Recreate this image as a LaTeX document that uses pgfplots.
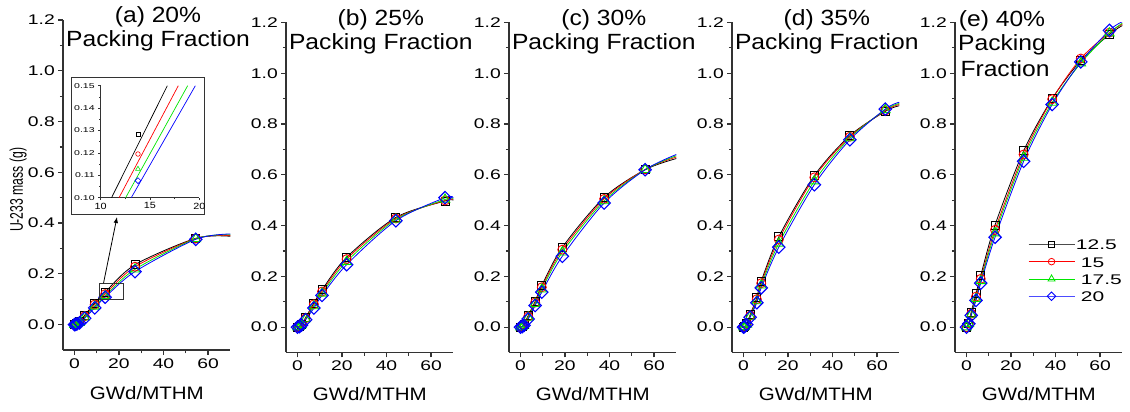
\documentclass[border=0pt]{standalone}
\usepackage{fontspec}
\setmainfont{Liberation Sans}
\newfontfamily\tickfont{Liberation Sans}[FakeStretch=1.38]
\newfontfamily\titlefont{Liberation Sans}[FakeStretch=1.12]
\newfontfamily\labelfont{Liberation Sans}[FakeStretch=1.14]
\newfontfamily\legfont{Liberation Sans}[FakeStretch=1.5]
\newfontfamily\insetfont{Liberation Sans}[FakeStretch=1.5]
\newfontfamily\insetxfont{Liberation Sans}[FakeStretch=1.2]
\usepackage{pgfplots}
\usepackage{pgfplotstable}
\pgfplotsset{compat=1.18}
\usetikzlibrary{arrows.meta}
\definecolor{cK}{RGB}{0,0,0}
\definecolor{cR}{RGB}{255,0,0}
\definecolor{cG}{RGB}{0,230,0}
\definecolor{cB}{RGB}{0,0,255}

% x, 12.5 (k), 15 (r), 17.5 (g), 20 (b); last row (x=70) is the end of the curves
\pgfplotstableread{
x k r g b
0 0 0 0 0
0.5 0.001 0.001 0.001 0.001
1.1 0.004 0.003 0.003 0.002
2.3 0.012 0.010 0.008 0.007
4.6 0.037 0.033 0.029 0.025
9.1 0.085 0.079 0.072 0.066
13.8 0.128 0.120 0.113 0.108
27.2 0.236 0.228 0.218 0.209
54.5 0.340 0.339 0.338 0.336
70 0.348 0.351 0.354 0.357
}\dataA
\pgfplotstableread{
x k r g b
0 0 0 0 0
0.9 0.003 0.002 0.002 0.002
1.84 0.011 0.010 0.009 0.008
3.7 0.038 0.035 0.032 0.029
7.4 0.095 0.090 0.083 0.075
11.05 0.147 0.140 0.133 0.125
22.1 0.275 0.268 0.258 0.246
44.2 0.432 0.428 0.424 0.419
66.3 0.497 0.499 0.503 0.510
70 0.500 0.503 0.506 0.509
}\dataB
\pgfplotstableread{
x k r g b
0 0 0 0 0
0.8 0.002 0.002 0.002 0.002
1.6 0.010 0.009 0.008 0.007
3.5 0.046 0.042 0.038 0.032
6.6 0.101 0.097 0.092 0.085
9.6 0.164 0.157 0.149 0.138
18.8 0.314 0.305 0.295 0.279
37.6 0.511 0.505 0.497 0.489
56.0 0.620 0.621 0.620 0.620
70 0.664 0.670 0.675 0.680
}\dataC
\pgfplotstableread{
x k r g b
0 0 0 0 0
0.5 0.002 0.002 0.002 0.002
1.5 0.013 0.012 0.011 0.010
3.0 0.048 0.045 0.042 0.039
6.0 0.116 0.110 0.103 0.096
8.0 0.181 0.173 0.165 0.155
15.9 0.356 0.345 0.330 0.315
31.85 0.597 0.590 0.575 0.561
47.8 0.754 0.750 0.745 0.738
63.7 0.850 0.853 0.856 0.859
70 0.872 0.877 0.881 0.886
}\dataD
\pgfplotstableread{
x k r g b
0 0 0 0 0
1.07 0.016 0.015 0.014 0.013
2.14 0.059 0.053 0.050 0.046
4.28 0.131 0.120 0.112 0.105
6.42 0.203 0.190 0.182 0.173
12.84 0.402 0.383 0.370 0.354
25.68 0.694 0.680 0.668 0.653
38.52 0.900 0.898 0.885 0.877
51.36 1.050 1.058 1.040 1.045
64.2 1.153 1.160 1.158 1.169
70 1.188 1.193 1.197 1.203
}\dataE
% inset: fitted lines (x from 0.10 to 0.15) and the points at 13.78
\pgfplotstableread{
x k r g b
0.10 11.10 11.86 12.53 13.10
0.15 16.76 17.87 18.82 19.60
}\insetLines
\pgfplotstableread{
x k r g b
13.78 0.1284 0.1195 0.1128 0.1076
}\insetPts

\pgfplotsset{
  mK/.style={mark=square, mark size=4pt, mark options={solid, fill=white, line width=0.9pt}},
  mR/.style={mark=o, mark size=4.5pt, mark options={solid, fill=white, line width=0.9pt}},
  mG/.style={mark=triangle, mark size=5.5pt, mark options={solid, fill=white, line width=0.9pt}},
  mB/.style={mark=square, mark size=4.4pt, mark options={solid, fill=white, line width=1.1pt, rotate=45}},
  panel/.style={
    scale only axis, width=167pt, height=330pt,
    xmin=-5, xmax=70, ymin=-0.1, ymax=1.2,
    axis lines=left,
    axis line style={-, line width=1.8pt, black!80},
    xtick={0,20,40,60}, minor x tick num=1,
    ytick={0,0.2,0.4,0.6,0.8,1.0,1.2}, minor y tick num=1,
    tick align=outside, major tick length=5pt, minor tick length=3.5pt,
    tick style={line width=1.2pt, black!80},
    /pgf/number format/assume math mode=true,
    tick label style={font=\tickfont\fontsize{14}{14}\selectfont},
    y tick label style={/pgf/number format/.cd, fixed, fixed zerofill, precision=1, /tikz/.cd},
    xlabel={GWd/MTHM},
    xlabel style={font=\labelfont\fontsize{18}{18}\selectfont, at={(axis description cs:0.5,-0.144)}, anchor=base},
  },
}

\newcommand{\serie}[4]{% table, column, colour, mark style
  \addplot[#3, line width=0.8pt, smooth, forget plot] table[x=x,y=#2]{#1};
  \addplot[#3, only marks, #4, restrict x to domain=-10:69.5, forget plot] table[x=x,y=#2]{#1};
}
\newcommand{\allseries}[1]{%
  \serie{#1}{k}{cK}{mK}
  \serie{#1}{r}{cR}{mR}
  \serie{#1}{g}{cG}{mG}
  \serie{#1}{b}{cB}{mB}
}

\begin{document}
\begin{tikzpicture}
\useasboundingbox (0,0) rectangle (1130pt,412pt);

% (a)
\begin{axis}[panel, at={(63.3pt,62pt)}, anchor=south west,
  xlabel style={at={(axis description cs:0.5,-0.1515)}},
  ylabel={\scalebox{1}[1.5]{U-233 mass (g)}},
  ylabel style={font=\fontsize{12.2}{12}\selectfont, at={(axis description cs:-0.27,0.485)}, anchor=center}]
\allseries{\dataA}
\end{axis}

% inset frame, zoom box and arrow
\draw[black!80, line width=1pt, fill=white] (71pt,197pt) rectangle (204pt,334pt);
\draw[black!80, line width=0.9pt] (99.3pt,112.7pt) rectangle (123.3pt,128.7pt);
\draw[black, line width=0.8pt, -{Latex[length=6pt,width=4.5pt]}] (103.5pt,128.7pt) -- (117pt,195pt);

\begin{axis}[at={(100.7pt,214.3pt)}, anchor=south west, scale only axis,
  width=98.6pt, height=112pt, xmin=10, xmax=20, ymin=0.10, ymax=0.15,
  axis lines=left, axis line style={-, line width=0.8pt, black!80},
  xtick={10,15,20}, minor x tick num=1,
  ytick={0.10,0.11,0.12,0.13,0.14,0.15}, minor y tick num=1,
  tick align=outside, major tick length=2.5pt, minor tick length=1.5pt,
  tick style={line width=0.6pt, black!80},
  /pgf/number format/assume math mode=true,
  y tick label style={font=\insetfont\fontsize{7}{7}\selectfont, /pgf/number format/.cd, fixed, fixed zerofill, precision=2, /tikz/.cd},
  x tick label style={font=\insetxfont\fontsize{9}{9}\selectfont, yshift=1pt}]
\addplot[cK, line width=0.7pt] table[x=k,y=x]{\insetLines};
\addplot[cR, line width=0.7pt] table[x=r,y=x]{\insetLines};
\addplot[cG, line width=0.7pt] table[x=g,y=x]{\insetLines};
\addplot[cB, line width=0.7pt] table[x=b,y=x]{\insetLines};
\addplot[cK, only marks, mark=square, mark size=2pt, mark options={line width=0.6pt}] table[x=x,y=k]{\insetPts};
\addplot[cR, only marks, mark=o, mark size=2.3pt, mark options={line width=0.6pt}] table[x=x,y=r]{\insetPts};
\addplot[cG, only marks, mark=triangle, mark size=2.8pt, mark options={line width=0.6pt}] table[x=x,y=g]{\insetPts};
\addplot[cB, only marks, mark=square, mark size=2.1pt, mark options={rotate=45, line width=0.6pt}] table[x=x,y=b]{\insetPts};
\end{axis}

% (b)
\begin{axis}[panel, at={(286.3pt,59.5pt)}, anchor=south west]
\allseries{\dataB}
\end{axis}
% (c)
\begin{axis}[panel, at={(509.3pt,59.5pt)}, anchor=south west]
\allseries{\dataC}
\end{axis}
% (d)
\begin{axis}[panel, at={(732.3pt,59.5pt)}, anchor=south west]
\allseries{\dataD}
\end{axis}
% (e)
\begin{axis}[panel, at={(955.3pt,59.5pt)}, anchor=south west,
  legend cell align=left,
  legend image code/.code={\draw[mark repeat=2,mark phase=2,#1] plot coordinates {(0pt,0pt) (23pt,0pt) (46pt,0pt)};},
  legend style={at={(axis description cs:0.435,0.348)}, anchor=north west, draw=none, fill=none,
    font=\legfont\fontsize{14}{14}\selectfont, row sep=4.3pt, inner sep=0pt,
    nodes={inner sep=1pt, text height=11pt, text depth=0pt}}]
\addlegendimage{black!70, line width=0.8pt, mark=square, mark size=2.8pt, mark options={solid, black, fill=white}}
\addlegendimage{cR, line width=0.8pt, mark=o, mark size=3.3pt, mark options={solid, fill=white}}
\addlegendimage{cG, line width=0.8pt, mark=triangle, mark size=4pt, mark options={solid, fill=white}}
\addlegendimage{cB!70, line width=0.8pt, mark=square, mark size=3pt, mark options={solid, cB, fill=white, rotate=45}}
\allseries{\dataE}
\legend{12.5,\hspace{5pt}15,\hspace{5pt}17.5,\hspace{5pt}20}
\end{axis}

% titles
\begin{scope}[every node/.style={font=\titlefont\fontsize{22}{22}\selectfont, anchor=base, inner sep=0pt}]
\node at (158pt,389pt) {(a) 20\%};
\node at (158pt,365pt) {Packing Fraction};
\node at (380.8pt,386.3pt) {(b) 25\%};
\node at (380.8pt,362pt) {Packing Fraction};
\node at (603.8pt,386.3pt) {(c) 30\%};
\node at (603.8pt,362pt) {Packing Fraction};
\node at (826.8pt,386.3pt) {(d) 35\%};
\node at (826.8pt,362pt) {Packing Fraction};
\node at (1002pt,385.3pt) {(e) 40\%};
\node at (1002pt,361.7pt) {Packing};
\node at (1005pt,335.3pt) {Fraction};
\end{scope}
\end{tikzpicture}
\end{document}
